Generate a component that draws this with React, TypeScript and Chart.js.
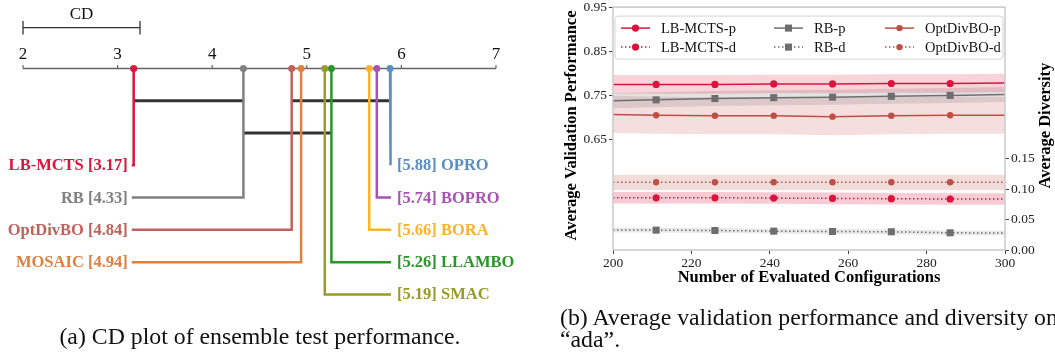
import React, { useEffect, useRef } from 'react';
import { Chart, registerables } from 'chart.js';
Chart.register(...registerables);

const SERIF = "'Liberation Serif', 'Times New Roman', serif";
Chart.defaults.font.family = SERIF;

// ---------- (a) CD plot data ----------
const methods = ['LB-MCTS', 'RB', 'OptDivBO', 'MOSAIC', 'SMAC', 'LLAMBO', 'BORA', 'BOPRO', 'OPRO'];
const avgRanks = [3.17, 4.33, 4.84, 4.94, 5.19, 5.26, 5.66, 5.74, 5.88];
const methodColors = ['#DC143C', '#808080', '#c4605a', '#e0803f', '#9a9a2a', '#2a962a', '#fdb22b', '#a653b3', '#5a8ec6'];
const cliqueStart = [3.17, 4.84, 4.33];
const cliqueEnd = [4.33, 5.88, 5.26];
const criticalDifference = 1.237;
const rankTicks = [2, 3, 4, 5, 6, 7];

// ---------- (b) validation performance / diversity data ----------
const configs = [200, 211, 226, 241, 256, 271, 286, 300];
const markerConfigs = [211, 226, 241, 256, 271, 286];
const xTicks = [200, 220, 240, 260, 280, 300];
const perfTicks = [0.65, 0.75, 0.85, 0.95];
const divTicks = [0, 0.05, 0.1, 0.15];

const lbmctsPerf = [0.775, 0.775, 0.775, 0.776, 0.776, 0.777, 0.777, 0.778];
const lbmctsPerfStd = [0.021, 0.021, 0.021, 0.021, 0.021, 0.021, 0.021, 0.021];
const rbPerf = [0.738, 0.740, 0.743, 0.745, 0.746, 0.748, 0.750, 0.752];
const rbPerfStd = [0.017, 0.017, 0.017, 0.017, 0.017, 0.017, 0.017, 0.017];
const optdivboPerf = [0.707, 0.705, 0.704, 0.704, 0.702, 0.704, 0.705, 0.705];
const optdivboPerfStd = [0.042, 0.042, 0.042, 0.042, 0.042, 0.042, 0.042, 0.042];

const lbmctsDiv = [0.086, 0.086, 0.086, 0.0855, 0.085, 0.0845, 0.084, 0.084];
const lbmctsDivStd = [0.0095, 0.0095, 0.0095, 0.0095, 0.0095, 0.0095, 0.0095, 0.0095];
const rbDiv = [0.033, 0.0327, 0.0321, 0.031, 0.0305, 0.030, 0.0283, 0.028];
const rbDivStd = [0.004, 0.004, 0.004, 0.004, 0.004, 0.004, 0.004, 0.004];
const optdivboDiv = [0.1115, 0.1115, 0.1115, 0.1115, 0.1115, 0.1115, 0.1115, 0.1115];
const optdivboDivStd = [0.0125, 0.0125, 0.0125, 0.0125, 0.0125, 0.0125, 0.0125, 0.0125];

const ROW_PX = 33;

function CDChart() {
  const ref = useRef<HTMLCanvasElement>(null);
  useEffect(() => {
    const n = methods.length;
    const order = methods.map((_, i) => i).sort((a, b) => avgRanks[a] - avgRanks[b]);
    const nLeft = Math.floor(n / 2);
    const leftIdx = order.slice(0, nLeft);
    const rightIdx = order.slice(nLeft).reverse();
    const minRank = avgRanks[order[0]];
    const maxRank = avgRanks[order[n - 1]];
    const leftEnd = minRank - 0.02;
    const rightEnd = maxRank + 0.01;

    // clique rows (greedy)
    const rowEnds: number[] = [];
    const cliqueRows = cliqueStart.map((s, i) => {
      let r = 0;
      while (rowEnds[r] !== undefined && rowEnds[r] >= s) r++;
      rowEnds[r] = cliqueEnd[i];
      return r + 1;
    });
    const firstRow = rowEnds.length + 1;
    const cdRow = -1.27;

    const rowOf: number[] = [];
    const endOf: number[] = [];
    leftIdx.forEach((m, k) => { rowOf[m] = firstRow + k; endOf[m] = leftEnd; });
    rightIdx.forEach((m, k) => { rowOf[m] = firstRow + k; endOf[m] = rightEnd; });

    const methodSets = methods.map((name, i) => ({
      label: name,
      data: [
        { x: avgRanks[i], y: 0 },
        { x: avgRanks[i], y: rowOf[i] },
        { x: endOf[i], y: rowOf[i] },
      ],
      showLine: true,
      borderColor: methodColors[i],
      backgroundColor: methodColors[i],
      borderWidth: 2.5,
      borderJoinStyle: 'miter' as const,
      pointRadius: [3.5, 0, 0],
      pointBorderWidth: 0,
      pointBackgroundColor: methodColors[i],
    }));
    const cliqueSets = cliqueStart.map((s, i) => ({
      label: 'clique' + i,
      data: [{ x: s, y: cliqueRows[i] }, { x: cliqueEnd[i], y: cliqueRows[i] }],
      showLine: true,
      borderColor: '#333',
      borderWidth: 3,
      pointRadius: 0,
    }));
    const cdSet = {
      label: 'CD',
      data: [{ x: rankTicks[0], y: cdRow }, { x: rankTicks[0] + criticalDifference, y: cdRow }],
      showLine: true,
      borderColor: '#333',
      borderWidth: 1.3,
      pointRadius: 0,
    };
    const axisSet = {
      label: 'axis',
      data: [{ x: rankTicks[0], y: 0 }, { x: rankTicks[rankTicks.length - 1], y: 0 }],
      showLine: true,
      borderColor: '#666',
      borderWidth: 1.5,
      pointRadius: 0,
    };

    const textPlugin = {
      id: 'cdText',
      afterDatasetsDraw(chart: any) {
        const { ctx } = chart;
        const xs = chart.scales.x;
        const ys = chart.scales.y;
        const ay = ys.getPixelForValue(0);
        ctx.save();
        ctx.strokeStyle = '#666';
        ctx.lineWidth = 1.2;
        ctx.fillStyle = '#111';
        ctx.font = `17px ${SERIF}`;
        ctx.textAlign = 'center';
        ctx.textBaseline = 'alphabetic';
        rankTicks.forEach((t) => {
          const px = xs.getPixelForValue(t);
          ctx.beginPath();
          ctx.moveTo(px, ay - 3.5);
          ctx.lineTo(px, ay);
          ctx.stroke();
          ctx.fillText(String(t), px, ay - 9.5);
        });
        // CD bar end ticks and label
        const cy = ys.getPixelForValue(cdRow);
        const x0 = xs.getPixelForValue(rankTicks[0]);
        const x1 = xs.getPixelForValue(rankTicks[0] + criticalDifference);
        ctx.strokeStyle = '#333';
        ctx.lineWidth = 1.3;
        [x0, x1].forEach((px) => {
          ctx.beginPath();
          ctx.moveTo(px, cy - 6.5);
          ctx.lineTo(px, cy + 7);
          ctx.stroke();
        });
        ctx.fillText('CD', (x0 + x1) / 2, cy - 9);
        // method labels
        ctx.font = `bold 16.5px ${SERIF}`;
        methods.forEach((name, i) => {
          const py = ys.getPixelForValue(rowOf[i]) + 5;
          ctx.fillStyle = methodColors[i];
          if (endOf[i] === leftEnd) {
            ctx.textAlign = 'right';
            ctx.fillText(`${name} [${avgRanks[i].toFixed(2)}]`, xs.getPixelForValue(leftEnd) - 4, py);
          } else {
            ctx.textAlign = 'left';
            ctx.fillText(`[${avgRanks[i].toFixed(2)}] ${name}`, xs.getPixelForValue(rightEnd) + 6, py);
          }
        });
        ctx.restore();
      },
    };

    const chart = new Chart(ref.current!, {
      type: 'scatter',
      data: { datasets: [...methodSets, ...cliqueSets, cdSet, axisSet] as any },
      options: {
        animation: false,
        responsive: false,
        events: [],
        layout: { padding: { left: 23, right: 34, top: 0, bottom: 0 } },
        scales: {
          x: { type: 'linear', min: rankTicks[0], max: rankTicks[rankTicks.length - 1], display: false },
          y: { type: 'linear', reverse: true, min: -2, max: 360 / ROW_PX - 2, display: false },
        },
        plugins: { legend: { display: false }, tooltip: { enabled: false } },
      },
      plugins: [textPlugin],
    });
    return () => chart.destroy();
  }, []);
  return <canvas ref={ref} width={530} height={360} style={{ position: 'absolute', left: 0, top: 0, width: 530, height: 360 }} />;
}

const seriesDefs = [
  { name: 'LB-MCTS', color: '#DC143C', band: 'rgba(220,20,60,0.19)', divBand: 'rgba(220,20,60,0.22)', style: 'circle', r: 3.6, perf: lbmctsPerf, perfStd: lbmctsPerfStd, div: lbmctsDiv, divStd: lbmctsDivStd },
  { name: 'RB', color: '#6e6e6e', band: 'rgba(112,112,112,0.2)', divBand: 'rgba(112,112,112,0.16)', style: 'rect', r: 5, perf: rbPerf, perfStd: rbPerfStd, div: rbDiv, divStd: rbDivStd },
  { name: 'OptDivBO', color: '#bf4f45', band: 'rgba(192,80,70,0.18)', divBand: 'rgba(192,80,70,0.2)', style: 'circle', r: 3.2, perf: optdivboPerf, perfStd: optdivboPerfStd, div: optdivboDiv, divStd: optdivboDivStd },
];
const DOT = [1.5, 2.5];

function PerfChart() {
  const ref = useRef<HTMLCanvasElement>(null);
  useEffect(() => {
    const radii = (r: number) => configs.map((x) => (markerConfigs.includes(x) ? r : 0));
    const pts = (ys: number[]) => configs.map((x, i) => ({ x, y: ys[i] }));
    const lines: any[] = [];
    const bands: any[] = [];
    seriesDefs.forEach((s) => {
      lines.push({
        label: `${s.name}-p`, data: pts(s.perf), yAxisID: 'y', borderColor: s.color, borderWidth: 1.5,
        pointRadius: radii(s.r), pointStyle: s.style, pointBackgroundColor: s.color, pointBorderColor: s.color,
        pointBorderWidth: 0, fill: false, _dash: false, _r: s.r,
      });
    });
    seriesDefs.forEach((s) => {
      lines.push({
        label: `${s.name}-d`, data: pts(s.div), yAxisID: 'y1', borderColor: s.color, borderWidth: 1.5, borderDash: DOT,
        pointRadius: radii(s.r), pointStyle: s.style, pointBackgroundColor: s.color, pointBorderColor: s.color,
        pointBorderWidth: 0, fill: false, _dash: true, _r: s.r,
      });
    });
    seriesDefs.forEach((s) => {
      bands.push({ label: '', data: pts(s.perf.map((v, i) => v + s.perfStd[i])), yAxisID: 'y', borderWidth: 0, pointRadius: 0, fill: '+1', backgroundColor: s.band });
      bands.push({ label: '', data: pts(s.perf.map((v, i) => v - s.perfStd[i])), yAxisID: 'y', borderWidth: 0, pointRadius: 0, fill: false });
      bands.push({ label: '', data: pts(s.div.map((v, i) => v + s.divStd[i])), yAxisID: 'y1', borderWidth: 0, pointRadius: 0, fill: '+1', backgroundColor: s.divBand });
      bands.push({ label: '', data: pts(s.div.map((v, i) => v - s.divStd[i])), yAxisID: 'y1', borderWidth: 0, pointRadius: 0, fill: false });
    });

    const decor = {
      id: 'decor',
      afterDatasetsDraw(chart: any) {
        const { ctx, chartArea: a } = chart;
        ctx.save();
        ctx.strokeStyle = '#cacaca';
        ctx.lineWidth = 1.5;
        ctx.strokeRect(a.left, a.top, a.right - a.left, a.bottom - a.top);
        // legend
        const lx = a.left + 2, ly = a.top + 9, lw = a.right - a.left - 4, lh = 43;
        ctx.beginPath();
        (ctx as any).roundRect ? ctx.roundRect(lx, ly, lw, lh, 3) : ctx.rect(lx, ly, lw, lh);
        ctx.fillStyle = 'rgba(255,255,255,0.85)';
        ctx.fill();
        ctx.strokeStyle = '#d4d4d4';
        ctx.lineWidth = 1;
        ctx.stroke();
        const colStart = [8, 161, 272];
        const rowY = [a.top + 21, a.top + 40];
        const dsets = chart.data.datasets.slice(0, 6);
        dsets.forEach((d: any, k: number) => {
          const col = k % 3, row = Math.floor(k / 3);
          const hx = a.left + colStart[col];
          const hy = rowY[row];
          ctx.strokeStyle = d.borderColor;
          ctx.lineWidth = 1.5;
          ctx.setLineDash(d._dash ? DOT : []);
          ctx.beginPath();
          ctx.moveTo(hx, hy);
          ctx.lineTo(hx + 29, hy);
          ctx.stroke();
          ctx.setLineDash([]);
          ctx.fillStyle = d.borderColor;
          const mx = hx + 14.5;
          if (d.pointStyle === 'rect') {
            const h = d._r / Math.SQRT2;
            ctx.fillRect(mx - h, hy - h, 2 * h, 2 * h);
          } else {
            ctx.beginPath();
            ctx.arc(mx, hy, d._r, 0, Math.PI * 2);
            ctx.fill();
          }
          ctx.fillStyle = '#111';
          ctx.font = `14.5px ${SERIF}`;
          ctx.textAlign = 'left';
          ctx.textBaseline = 'middle';
          ctx.fillText(d.label, hx + 40, hy + 1);
        });
        // axis titles
        ctx.fillStyle = '#000';
        ctx.font = `bold 16.5px ${SERIF}`;
        ctx.textAlign = 'center';
        ctx.textBaseline = 'middle';
        ctx.fillText('Number of Evaluated Configurations', (a.left + a.right) / 2, a.bottom + 28);
        const cyv = (a.top + a.bottom) / 2 - 3;
        ctx.save();
        ctx.translate(a.left - 41, cyv);
        ctx.rotate(-Math.PI / 2);
        ctx.fillText('Average Validation Performance', 0, 0);
        ctx.restore();
        ctx.save();
        ctx.translate(a.right + 41, cyv);
        ctx.rotate(-Math.PI / 2);
        ctx.fillText('Average Diversity', 0, 0);
        ctx.restore();
        ctx.restore();
      },
    };

    const tickFont = { family: SERIF, size: 13.5 };
    const chart = new Chart(ref.current!, {
      type: 'line',
      data: { datasets: [...lines, ...bands] },
      options: {
        animation: false,
        responsive: false,
        events: [],
        layout: { padding: { top: 8, left: 0, right: 0, bottom: 0 } },
        scales: {
          x: {
            type: 'linear', min: xTicks[0], max: xTicks[xTicks.length - 1],
            afterBuildTicks: (s: any) => { s.ticks = xTicks.map((v) => ({ value: v })); },
            afterFit: (s: any) => { s.height = 110; },
            ticks: { font: tickFont, color: '#222', padding: 1, maxRotation: 0, callback: (v: any) => String(v) },
            grid: { drawOnChartArea: false, drawTicks: true, tickLength: 4, tickColor: '#444', tickWidth: 1 },
            border: { display: false },
          },
          y: {
            type: 'linear', position: 'left', min: 0.4, max: 0.95,
            afterBuildTicks: (s: any) => { s.ticks = perfTicks.map((v) => ({ value: v })); },
            afterFit: (s: any) => { s.width = 83; },
            ticks: { font: tickFont, color: '#222', padding: 2, callback: (v: any) => Number(v).toFixed(2) },
            grid: { drawOnChartArea: false, drawTicks: true, tickLength: 4, tickColor: '#444', tickWidth: 1 },
            border: { display: false },
          },
          y1: {
            type: 'linear', position: 'right', min: 0, max: 0.4,
            afterBuildTicks: (s: any) => { s.ticks = divTicks.map((v) => ({ value: v })); },
            afterFit: (s: any) => { s.width = 50; },
            ticks: { font: tickFont, color: '#222', padding: 2, callback: (v: any) => Number(v).toFixed(2) },
            grid: { drawOnChartArea: false, drawTicks: true, tickLength: 4, tickColor: '#444', tickWidth: 1 },
            border: { display: false },
          },
        },
        plugins: {
          legend: { display: false },
          tooltip: { enabled: false },
          filler: { propagate: false, drawTime: 'beforeDatasetsDraw' },
        } as any,
      },
      plugins: [decor],
    });
    return () => chart.destroy();
  }, []);
  return <canvas ref={ref} width={525} height={363} style={{ position: 'absolute', left: 530, top: -3, width: 525, height: 363 }} />;
}

export default function App() {
  const cap: React.CSSProperties = {
    position: 'absolute', fontFamily: SERIF, fontSize: 23.8, lineHeight: '22px', color: '#111', whiteSpace: 'nowrap',
  };
  return (
    <div style={{ position: 'fixed', left: 0, top: 0, width: 1055, height: 360, background: '#fff', overflow: 'hidden' }}>
      <CDChart />
      <PerfChart />
      <div style={{ ...cap, left: 0, width: 520, top: 325, textAlign: 'center' }}>(a) CD plot of ensemble test performance.</div>
      <div style={{ ...cap, left: 560, top: 306 }}>
        (b) Average validation performance and diversity on<br />“ada”.
      </div>
    </div>
  );
}
